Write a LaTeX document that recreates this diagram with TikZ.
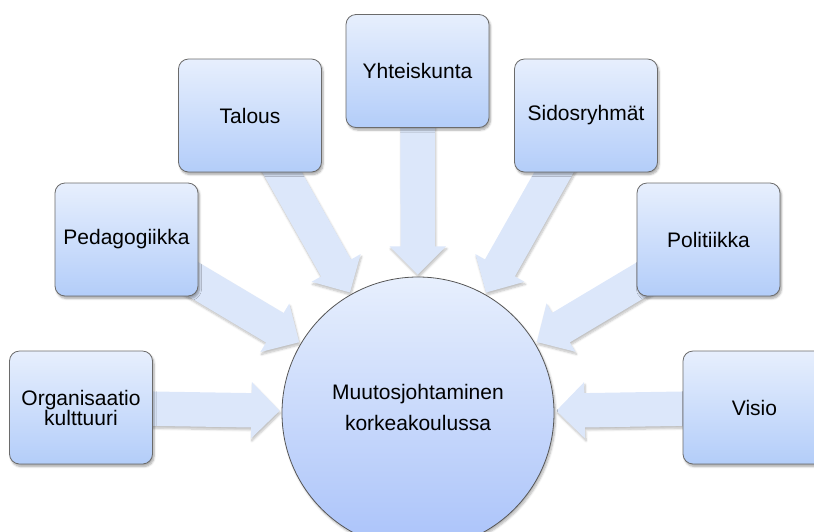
\documentclass[tikz,border=0pt]{standalone}
\usepackage{fontspec}
\setmainfont{Liberation Sans}
\usetikzlibrary{calc,shapes.arrows,shadows.blur,backgrounds}
\definecolor{boxtop}{HTML}{E7EFFD}
\definecolor{boxbot}{HTML}{B3CDF9}
\definecolor{edge}{HTML}{6B6B6B}
\definecolor{arrowfill}{HTML}{DCE7FA}
\tikzset{
  box/.style={draw=edge, line width=0.8pt, rounded corners=10pt,
    minimum width=143pt, minimum height=113pt,
    top color=boxtop, bottom color=boxbot,
    blur shadow={shadow xshift=1.5pt, shadow yshift=-2.5pt, shadow blur steps=6, shadow opacity=35},
    align=center, font=\fontsize{21}{20}\selectfont, inner sep=2pt},
  hub/.style={circle, draw=edge!80!black, line width=0.8pt, minimum size=272pt,
    top color=boxtop, bottom color=boxbot!95!blue,
    blur shadow={shadow xshift=1.5pt, shadow yshift=-2.5pt, shadow blur steps=6, shadow opacity=30},
    inner sep=0pt},
  hubtext/.style={align=center, font=\fontsize{21}{31}\selectfont, inner sep=0pt},
  barrowst/.style={single arrow, fill=arrowfill, draw=none, inner xsep=0pt, inner ysep=17pt,
    single arrow head extend=11pt, single arrow head indent=0pt, anchor=center,
    blur shadow={shadow xshift=1pt, shadow yshift=-2.5pt, shadow blur steps=6, shadow opacity=25}}
}
\newcommand\blockarr[1]{%
  \coordinate (t#1) at ($(c.center)!147pt!(#1.center)$);
  \path let \p1=($(t#1)-(#1.center)$), \n1={atan2(\y1,\x1)}, \n2={veclen(\x1,\y1)} in
    node[barrowst, rotate=\n1, minimum height=\n2] (a#1) at ($(#1.center)!0.5!(t#1)$) {};
}
\begin{document}
\begin{tikzpicture}[x=1pt,y=-1pt]
\useasboundingbox (0,0) rectangle (814,531);
\node[hub] (c) at (418,413) {};
\node[hubtext] (ct) at (418,407) {Muutosjohtaminen\\korkeakoulussa};
\node[box] (org) at (81,407.5) {Organisaatio\\kulttuuri};
\node[box] (ped) at (126.5,239.5) {Pedagogiikka};
\node[box] (tal) at (250,115.5) {Talous};
\node[box] (yht) at (417.5,71) {Yhteiskunta};
\node[box] (sid) at (586,115.5) {Sidosryhmät};
\node[box] (pol) at (708.5,239.5) {Politiikka};
\node[box] (vis) at (754.5,407.5) {Visio};
\begin{scope}[on background layer]
\blockarr{org}
\blockarr{ped}
\blockarr{tal}
\blockarr{yht}
\blockarr{sid}
\blockarr{pol}
\blockarr{vis}
\end{scope}
\end{tikzpicture}
\end{document}
